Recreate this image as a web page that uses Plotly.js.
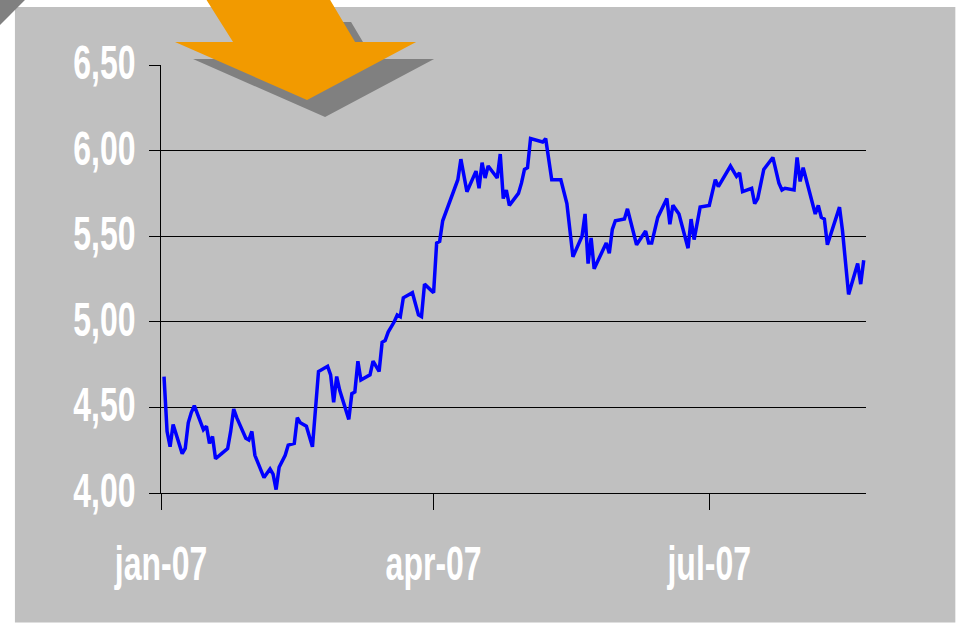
<!DOCTYPE html>
<html>
<head>
<meta charset="utf-8">
<script src="https://cdn.plot.ly/plotly-3.0.1.min.js"></script>
<style>html,body{margin:0;padding:0;background:#fff;}#chart{width:957px;height:623px;}</style>
</head>
<body>
<div id="chart"></div>
<script>
const dates = [
'2007-01-02','2007-01-03','2007-01-04','2007-01-05','2007-01-08','2007-01-09','2007-01-10','2007-01-11','2007-01-12','2007-01-15',
'2007-01-16','2007-01-17','2007-01-18','2007-01-19','2007-01-21','2007-01-23','2007-01-24','2007-01-25','2007-01-26','2007-01-29',
'2007-01-30','2007-01-31','2007-02-01','2007-02-04','2007-02-06','2007-02-07','2007-02-08','2007-02-09','2007-02-11','2007-02-12',
'2007-02-14','2007-02-15','2007-02-16','2007-02-18','2007-02-20','2007-02-22','2007-02-25','2007-02-26','2007-02-27','2007-02-28',
'2007-03-01','2007-03-04','2007-03-05','2007-03-06','2007-03-07','2007-03-08','2007-03-11','2007-03-12','2007-03-14','2007-03-15',
'2007-03-16','2007-03-17','2007-03-19','2007-03-20','2007-03-21','2007-03-22','2007-03-25','2007-03-27','2007-03-28','2007-03-29',
'2007-04-01','2007-04-02','2007-04-03','2007-04-04','2007-04-09','2007-04-10','2007-04-12','2007-04-15','2007-04-16','2007-04-17',
'2007-04-18','2007-04-19','2007-04-22','2007-04-23','2007-04-24','2007-04-25','2007-04-26','2007-04-29','2007-04-30','2007-05-01',
'2007-05-02','2007-05-03','2007-05-07','2007-05-08','2007-05-10','2007-05-13','2007-05-15','2007-05-17','2007-05-20','2007-05-21',
'2007-05-22','2007-05-23','2007-05-24','2007-05-28','2007-05-29','2007-05-30','2007-05-31','2007-06-03','2007-06-04','2007-06-07',
'2007-06-10','2007-06-11','2007-06-12','2007-06-14','2007-06-17','2007-06-18','2007-06-19','2007-06-21','2007-06-24','2007-06-25',
'2007-06-26','2007-06-28','2007-07-01','2007-07-03','2007-07-04','2007-07-08','2007-07-10','2007-07-11','2007-07-12','2007-07-15',
'2007-07-16','2007-07-17','2007-07-19','2007-07-22','2007-07-24','2007-07-25','2007-07-26','2007-07-29','2007-07-30','2007-07-31',
'2007-08-01','2007-08-05','2007-08-06','2007-08-07','2007-08-08','2007-08-09','2007-08-13','2007-08-14','2007-08-16','2007-08-19',
'2007-08-20','2007-08-21'
];
const values = [
4.68,4.36,4.27,4.40,4.23,4.26,4.41,4.47,4.51,4.37,
4.39,4.29,4.33,4.20,4.23,4.26,4.36,4.49,4.44,4.32,
4.31,4.36,4.22,4.09,4.14,4.11,4.02,4.15,4.22,4.28,
4.29,4.44,4.41,4.39,4.27,4.71,4.74,4.69,4.53,4.68,
4.60,4.43,4.58,4.59,4.77,4.66,4.69,4.77,4.71,4.88,
4.89,4.94,5.00,5.04,5.03,5.14,5.17,5.04,5.03,5.22,
5.17,5.46,5.47,5.59,5.83,5.95,5.76,5.88,5.78,5.93,
5.84,5.91,5.84,5.98,5.72,5.77,5.68,5.75,5.81,5.89,
5.90,6.07,6.05,6.07,5.83,5.83,5.69,5.38,5.50,5.63,
5.34,5.49,5.31,5.46,5.40,5.54,5.59,5.60,5.66,5.45,
5.53,5.46,5.46,5.61,5.72,5.57,5.68,5.63,5.43,5.60,
5.48,5.67,5.68,5.83,5.79,5.91,5.85,5.87,5.76,5.78,
5.69,5.72,5.89,5.96,5.81,5.77,5.78,5.77,5.96,5.82,
5.90,5.63,5.68,5.61,5.60,5.45,5.67,5.53,5.16,5.34,
5.22,5.36
];
const xTickVals = ['2007-01-01','2007-04-01','2007-07-01'];
const xTickText = ['jan-07','apr-07','jul-07'];
const yTickVals = [4.0,4.5,5.0,5.5,6.0,6.5];
const yTickText = ['4,00','4,50','5,00','5,50','6,00','6,50'];

const W = 957, H = 623;
const M = {l:161, r:91.3, t:65, b:129.7};
const pw = W - M.l - M.r, ph = H - M.t - M.b;
const PX = x => (x - M.l) / pw;
const PY = y => (H - M.b - y) / ph;
function pathOf(pts, dx, dy){
  return pts.map((p,i)=>(i?'L':'M')+PX(p[0]+dx).toFixed(5)+','+PY(p[1]+dy).toFixed(5)).join(' ')+' Z';
}
const arrowPts = [[199,-12],[233,42],[175,42],[307,100],[416,42],[355,42],[323,-12]];
const shadowPts = [[218,5],[233,42],[175,42],[307,100],[416,42],[355,42],[333,5]];
const shapes = [
  {type:'rect', xref:'paper', yref:'paper', x0:PX(15), x1:PX(955), y0:PY(623), y1:PY(7), fillcolor:'#c0c0c0', line:{width:0}, layer:'below'},
  {type:'path', xref:'paper', yref:'paper', path:pathOf([[0,0],[25,0],[0,25]],0,0), fillcolor:'#808080', line:{width:0}, layer:'above'},
  {type:'path', xref:'paper', yref:'paper', path:pathOf(shadowPts,18,17), fillcolor:'#808080', line:{width:0}, layer:'above'},
  {type:'path', xref:'paper', yref:'paper', path:pathOf(arrowPts,0,0), fillcolor:'#f29a00', line:{width:0}, layer:'above'}
];

const font = {family:'"Liberation Sans", Arial, sans-serif', size:32, color:'#ffffff', weight:'bold'};
const trace = {x:dates, y:values, type:'scatter', mode:'lines', line:{color:'#0000ff', width:3.5}, hoverinfo:'skip'};
const layout = {
  width:W, height:H, margin:{l:M.l, r:M.r, t:M.t, b:M.b, pad:0},
  paper_bgcolor:'#ffffff', plot_bgcolor:'#c0c0c0', showlegend:false,
  xaxis:{type:'date', range:['2007-01-01','2007-08-21 18:00'], tickmode:'array', tickvals:xTickVals, ticktext:xTickText,
    showgrid:false, zeroline:false, showline:true, linecolor:'#000', linewidth:1, ticks:'outside', ticklen:16, tickwidth:1, tickcolor:'#000',
    tickfont:font, ticklabelstandoff:26},
  yaxis:{range:[4,6.5], tickmode:'array', tickvals:yTickVals, ticktext:yTickText,
    showgrid:true, gridcolor:'#000', gridwidth:1, zeroline:false, showline:true, linecolor:'#000', linewidth:1,
    ticks:'outside', ticklen:11, tickwidth:1, tickcolor:'#000', tickfont:font, ticklabelstandoff:7},
  shapes:shapes
};
Plotly.newPlot('chart',[trace],layout,{staticPlot:true}).then(()=>{
  const stretch = (sel, shiftY) => document.querySelectorAll(sel).forEach(t=>{
    const b = t.getBBox();
    const cy = b.y + b.height/2;
    const ex = t.getAttribute('transform') || '';
    t.setAttribute('transform', ex + ' translate(0,'+(cy+shiftY)+') scale(1,1.53) translate(0,'+(-cy)+')');
  });
  stretch('.xtick text', 0);
  stretch('.ytick text', -3);
});
</script>
</body>
</html>
